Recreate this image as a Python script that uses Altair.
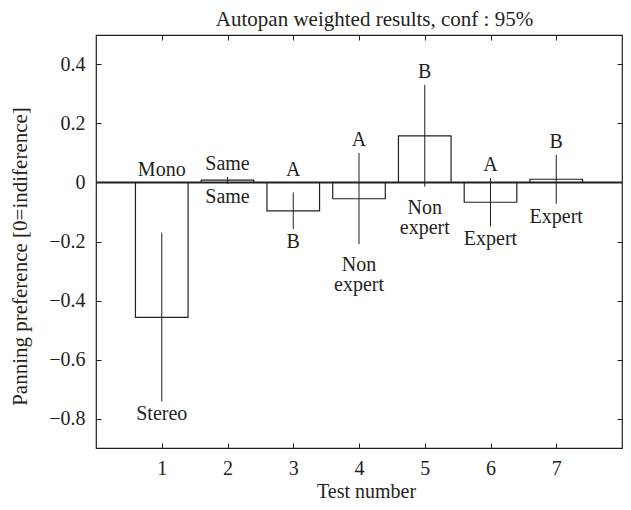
import altair as alt
import pandas as pd

tests = [1, 2, 3, 4, 5, 6, 7]
means = [-0.457, 0.008, -0.096, -0.055, 0.158, -0.067, 0.011]
ci_low = [-0.742, -0.005, -0.158, -0.209, -0.014, -0.149, -0.072]
ci_high = [-0.170, 0.018, -0.034, 0.100, 0.331, 0.015, 0.094]
upper_labels = ["Mono", "Same", "A", "A", "B", "A", "B"]
lower_labels = ["Stereo", "Same", "B", "Non\nexpert", "Non\nexpert", "Expert", "Expert"]
y_ticks = [-0.8, -0.6, -0.4, -0.2, 0, 0.2, 0.4]

df = pd.DataFrame({
    "test": tests,
    "mean": means,
    "lo": ci_low,
    "hi": ci_high,
    "top_label": upper_labels,
    "bottom_label": lower_labels,
    "nlines": [s.count("\n") + 1 for s in lower_labels],
})

FONT = "Liberation Serif, Times New Roman, DejaVu Serif, serif"
INK = "#231f20"
FS = 20

W, H = 526, 413
xscale = alt.Scale(domain=[0, 8], nice=False, zero=False)
yscale = alt.Scale(domain=[-0.9, 0.5], nice=False, zero=False)

base = alt.Chart(df).transform_calculate(
    x1="datum.test - 0.4",
    x2="datum.test + 0.4",
    zero="0",
    top_anchor="max(datum.hi, datum.mean, 0)",
    bot_anchor="min(datum.lo, datum.mean, 0)",
)

x_axis = alt.Axis(
    values=tests, orient="bottom", domain=False, grid=False, tickSize=5, offset=-5,
    minExtent=0, tickColor=INK, labelFont=FONT, labelFontSize=FS, labelColor=INK,
    labelPadding=10, title="Test number", titleFont=FONT, titleFontSize=FS,
    titleFontWeight="normal", titleColor=INK, titleX=270, titleY=54,
    titleBaseline="alphabetic",
)
y_axis = alt.Axis(
    values=y_ticks, format="~g", orient="left", domain=False, grid=False, tickSize=5,
    offset=-5, minExtent=0, tickColor=INK, labelFont=FONT, labelFontSize=FS,
    labelColor=INK, labelPadding=11, title="Panning preference [0=indiference]",
    titleFont=FONT, titleFontSize=21, titleFontWeight="normal", titleColor=INK,
    titleX=-81, titleY=221, titleBaseline="middle",
)

bars = base.mark_rect(fill="white", stroke=INK, strokeWidth=1.2).encode(
    x=alt.X("x1:Q", scale=xscale, axis=x_axis),
    x2="x2:Q",
    y=alt.Y("mean:Q", scale=yscale, axis=y_axis),
    y2="zero:Q",
)

# top and right axes: inward ticks only; the top one carries the chart title
frame_axes = base.mark_point(opacity=0).encode(
    x=alt.X("test:Q", scale=xscale, axis=alt.Axis(
        values=tests, orient="top", domain=False, grid=False, labels=False,
        tickSize=5, offset=-5, minExtent=0, tickColor=INK,
        title="Autopan weighted results, conf : 95%", titleFont=FONT,
        titleFontSize=21, titleFontWeight="normal", titleColor=INK,
        titleX=278, titleY=-15, titleBaseline="alphabetic")),
    y=alt.Y("mean:Q", scale=yscale, axis=alt.Axis(
        values=y_ticks, orient="right", domain=False, grid=False, labels=False,
        tickSize=5, offset=-5, minExtent=0, tickColor=INK, title=None)),
)

zero_line = alt.Chart(pd.DataFrame({"z": [0]})).mark_rule(
    color=INK, strokeWidth=1.8
).encode(y=alt.Y("z:Q", scale=yscale, axis=None))

errs = base.mark_rule(color=INK, strokeWidth=1).encode(
    x=alt.X("test:Q", scale=xscale, axis=None),
    y=alt.Y("lo:Q", scale=yscale, axis=None),
    y2="hi:Q",
)

top_text = base.mark_text(
    baseline="alphabetic", dy=-7, font=FONT, fontSize=FS, color=INK
).encode(
    x=alt.X("test:Q", scale=xscale, axis=None),
    y=alt.Y("top_anchor:Q", scale=yscale, axis=None),
    text="top_label:N",
)

bot_enc = dict(
    x=alt.X("test:Q", scale=xscale, axis=None),
    y=alt.Y("bot_anchor:Q", scale=yscale, axis=None),
    text="bottom_label:N",
)
bot_text_single = base.transform_filter("datum.nlines == 1").mark_text(
    baseline="top", dy=3, font=FONT, fontSize=FS, color=INK,
).encode(**bot_enc)
bot_text_multi = base.transform_filter("datum.nlines > 1").mark_text(
    baseline="top", dy=11, font=FONT, fontSize=FS, color=INK, lineBreak="\n",
    lineHeight=20,
).encode(**bot_enc)

chart = alt.layer(
    bars, frame_axes, zero_line, errs, top_text, bot_text_single, bot_text_multi
).resolve_axis(
    x="independent", y="independent"
).properties(
    width=W,
    height=H,
    padding={"left": 88, "top": 27, "right": 1, "bottom": 54},
    autosize=alt.AutoSizeParams(type="none"),
).configure_view(stroke=INK, strokeWidth=1.2)

chart.save("out.html", embed_options={"renderer": "svg", "actions": False})
